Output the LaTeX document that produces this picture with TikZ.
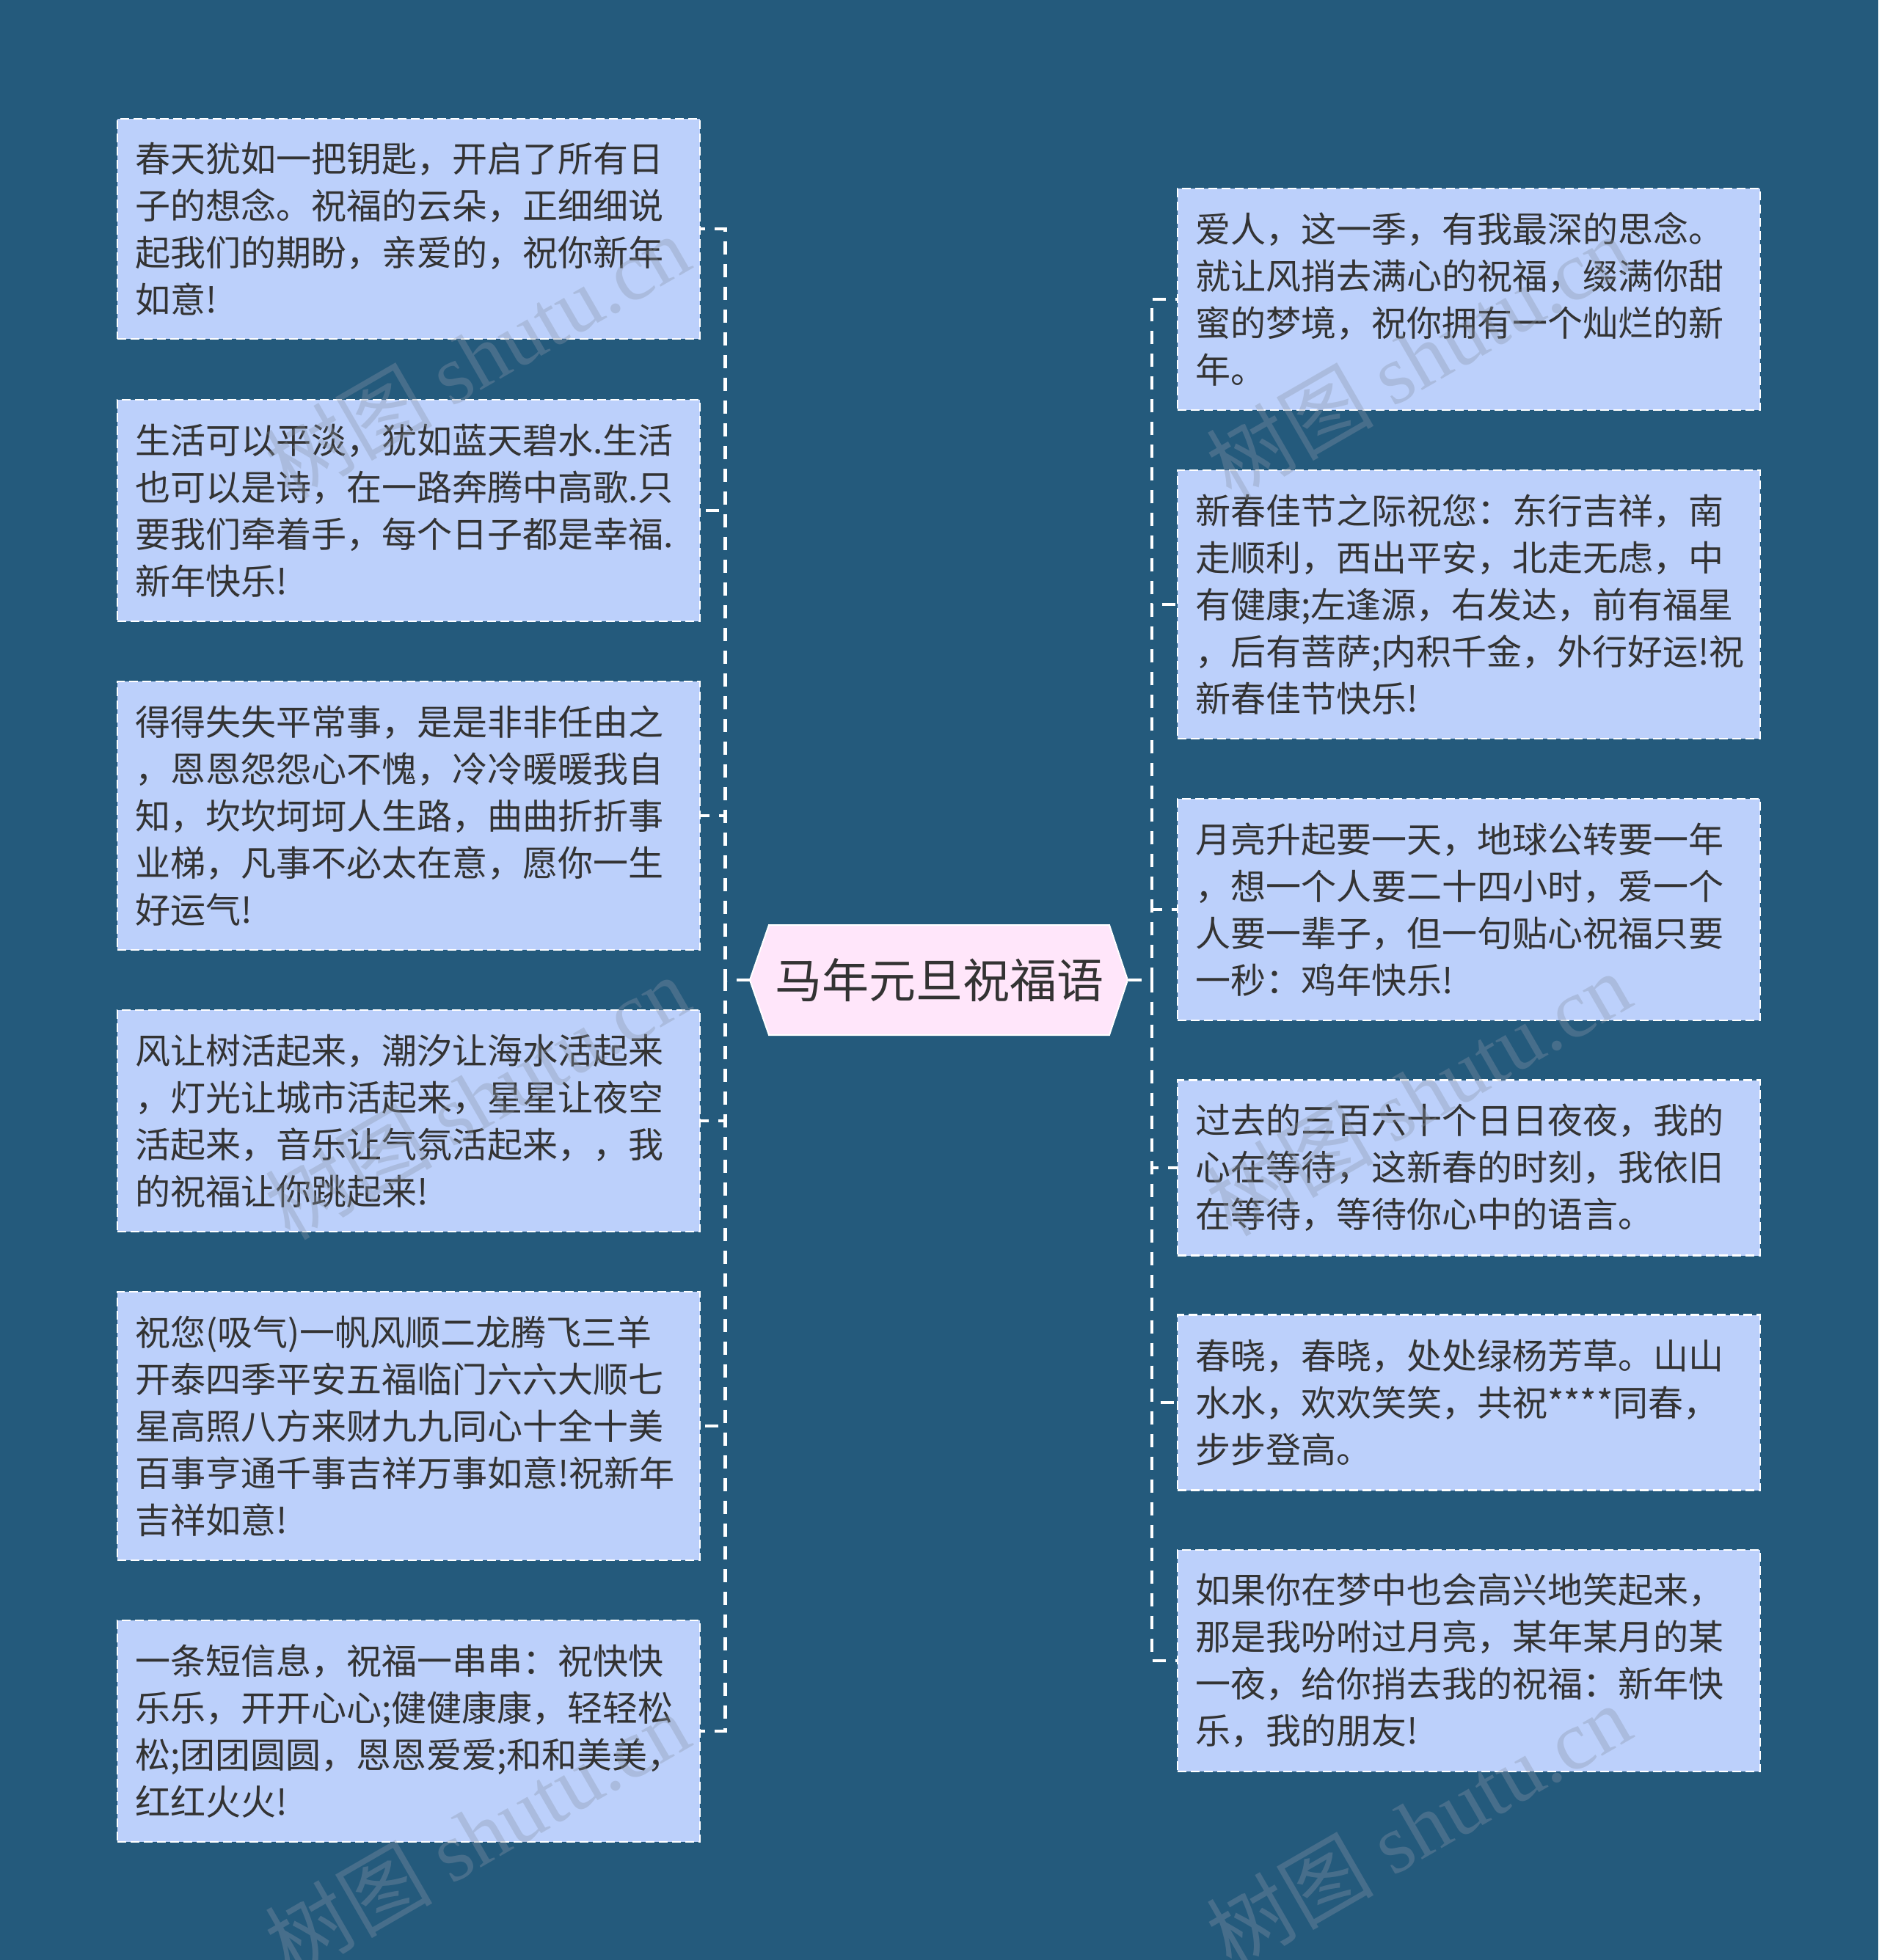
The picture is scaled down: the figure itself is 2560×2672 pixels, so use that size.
\documentclass[tikz,border=0pt]{standalone}
\usepackage{fontspec}
\setmainfont{Noto Sans CJK SC}
\newfontfamily\wmfont{Liberation Serif}
\definecolor{bgc}{HTML}{245A7C}
\definecolor{boxc}{HTML}{BCD0FB}
\definecolor{hexc}{HTML}{FFE6FA}
\definecolor{txtc}{HTML}{333333}
\definecolor{wmc}{HTML}{8A96A8}
\begin{document}
\begin{tikzpicture}[x=1pt,y=-1pt,
  msg/.style={rectangle, fill=boxc, draw=white, line width=2.5pt,
    dash pattern=on 12pt off 6pt, text=txtc,
    font=\fontsize{48}{64}\selectfont, align=left,
    text width=746pt, inner xsep=24pt, inner ysep=0pt, minimum width=794pt},
  rootbox/.style={rectangle, draw=none, text=txtc, inner sep=0pt,
    font=\fontsize{64}{76}\selectfont, minimum width=515pt, minimum height=150pt},
  conn/.style={draw=white, line width=4.5pt, dash pattern=on 18pt off 13pt},
  wm/.style={text=wmc, opacity=0.35, rotate=30, font=\fontsize{114}{120}\selectfont}]
\useasboundingbox[fill=bgc] (0,0) rectangle (2560,2672);

% central hexagon
\filldraw[fill=hexc, draw=white, line width=2pt]
  (1022,1336) -- (1048,1261) -- (1512,1261) -- (1537,1336) -- (1512,1411) -- (1048,1411) -- cycle;
\node[rootbox] (root) at (1280,1336) {马年元旦祝福语};

% left boxes
\node[msg, minimum height=300pt] (L1) at (557,312)
  {春天犹如一把钥匙，开启了所有日\\子的想念。祝福的云朵，正细细说\\起我们的期盼，亲爱的，祝你新年\\如意!};
\node[msg, minimum height=302pt] (L2) at (557,696)
  {生活可以平淡，犹如蓝天碧水.生活\\也可以是诗，在一路奔腾中高歌.只\\要我们牵着手，每个日子都是幸福.\\新年快乐!};
\node[msg, minimum height=366pt] (L3) at (557,1112)
  {得得失失平常事，是是非非任由之\\，恩恩怨怨心不愧，冷冷暖暖我自\\知，坎坎坷坷人生路，曲曲折折事\\业梯，凡事不必太在意，愿你一生\\好运气!};
\node[msg, minimum height=302pt] (L4) at (557,1528)
  {风让树活起来，潮汐让海水活起来\\，灯光让城市活起来，星星让夜空\\活起来，音乐让气氛活起来，，我\\的祝福让你跳起来!};
\node[msg, minimum height=366pt] (L5) at (557,1944)
  {祝您(吸气)一帆风顺二龙腾飞三羊\\开泰四季平安五福临门六六大顺七\\星高照八方来财九九同心十全十美\\百事亨通千事吉祥万事如意!祝新年\\吉祥如意!};
\node[msg, minimum height=302pt] (L6) at (557,2360)
  {一条短信息，祝福一串串：祝快快\\乐乐，开开心心;健健康康，轻轻松\\松;团团圆圆，恩恩爱爱;和和美美，\\红红火火!};

% right boxes
\node[msg, minimum height=302pt] (R1) at (2002,408)
  {爱人，这一季，有我最深的思念。\\就让风捎去满心的祝福，缀满你甜\\蜜的梦境，祝你拥有一个灿烂的新\\年。};
\node[msg, minimum height=366pt] (R2) at (2002,824)
  {新春佳节之际祝您：东行吉祥，南\\走顺利，西出平安，北走无虑，中\\有健康;左逢源，右发达，前有福星\\，后有菩萨;内积千金，外行好运!祝\\新春佳节快乐!};
\node[msg, minimum height=302pt] (R3) at (2002,1240)
  {月亮升起要一天，地球公转要一年\\，想一个人要二十四小时，爱一个\\人要一辈子，但一句贴心祝福只要\\一秒：鸡年快乐!};
\node[msg, minimum height=239pt] (R4) at (2002,1592)
  {过去的三百六十个日日夜夜，我的\\心在等待，这新春的时刻，我依旧\\在等待，等待你心中的语言。};
\node[msg, minimum height=239pt] (R5) at (2002,1912)
  {春晓，春晓，处处绿杨芳草。山山\\水水，欢欢笑笑，共祝****同春，\\步步登高。};
\node[msg, minimum height=302pt] (R6) at (2002,2264)
  {如果你在梦中也会高兴地笑起来，\\那是我吩咐过月亮，某年某月的某\\一夜，给你捎去我的祝福：新年快\\乐，我的朋友!};

% connectors
\coordinate (lt) at (988.5,1336);
\coordinate (rt) at (1570,1336);
\foreach \n in {L1,L2,L3,L4,L5,L6}
  \draw[conn] (root.west) -- (lt) |- (\n.east);
\foreach \n in {R1,R2,R3,R4,R5,R6}
  \draw[conn] (root.east) -- (rt) |- (\n.west);

% watermarks
\foreach \p in {(650,486),(650,1496),(650,2500),(1933,486),(1933,1491),(1933,2489)}
  \node[wm] (wmk) at \p {树图 {\wmfont shutu.cn}};
\end{tikzpicture}
\end{document}
